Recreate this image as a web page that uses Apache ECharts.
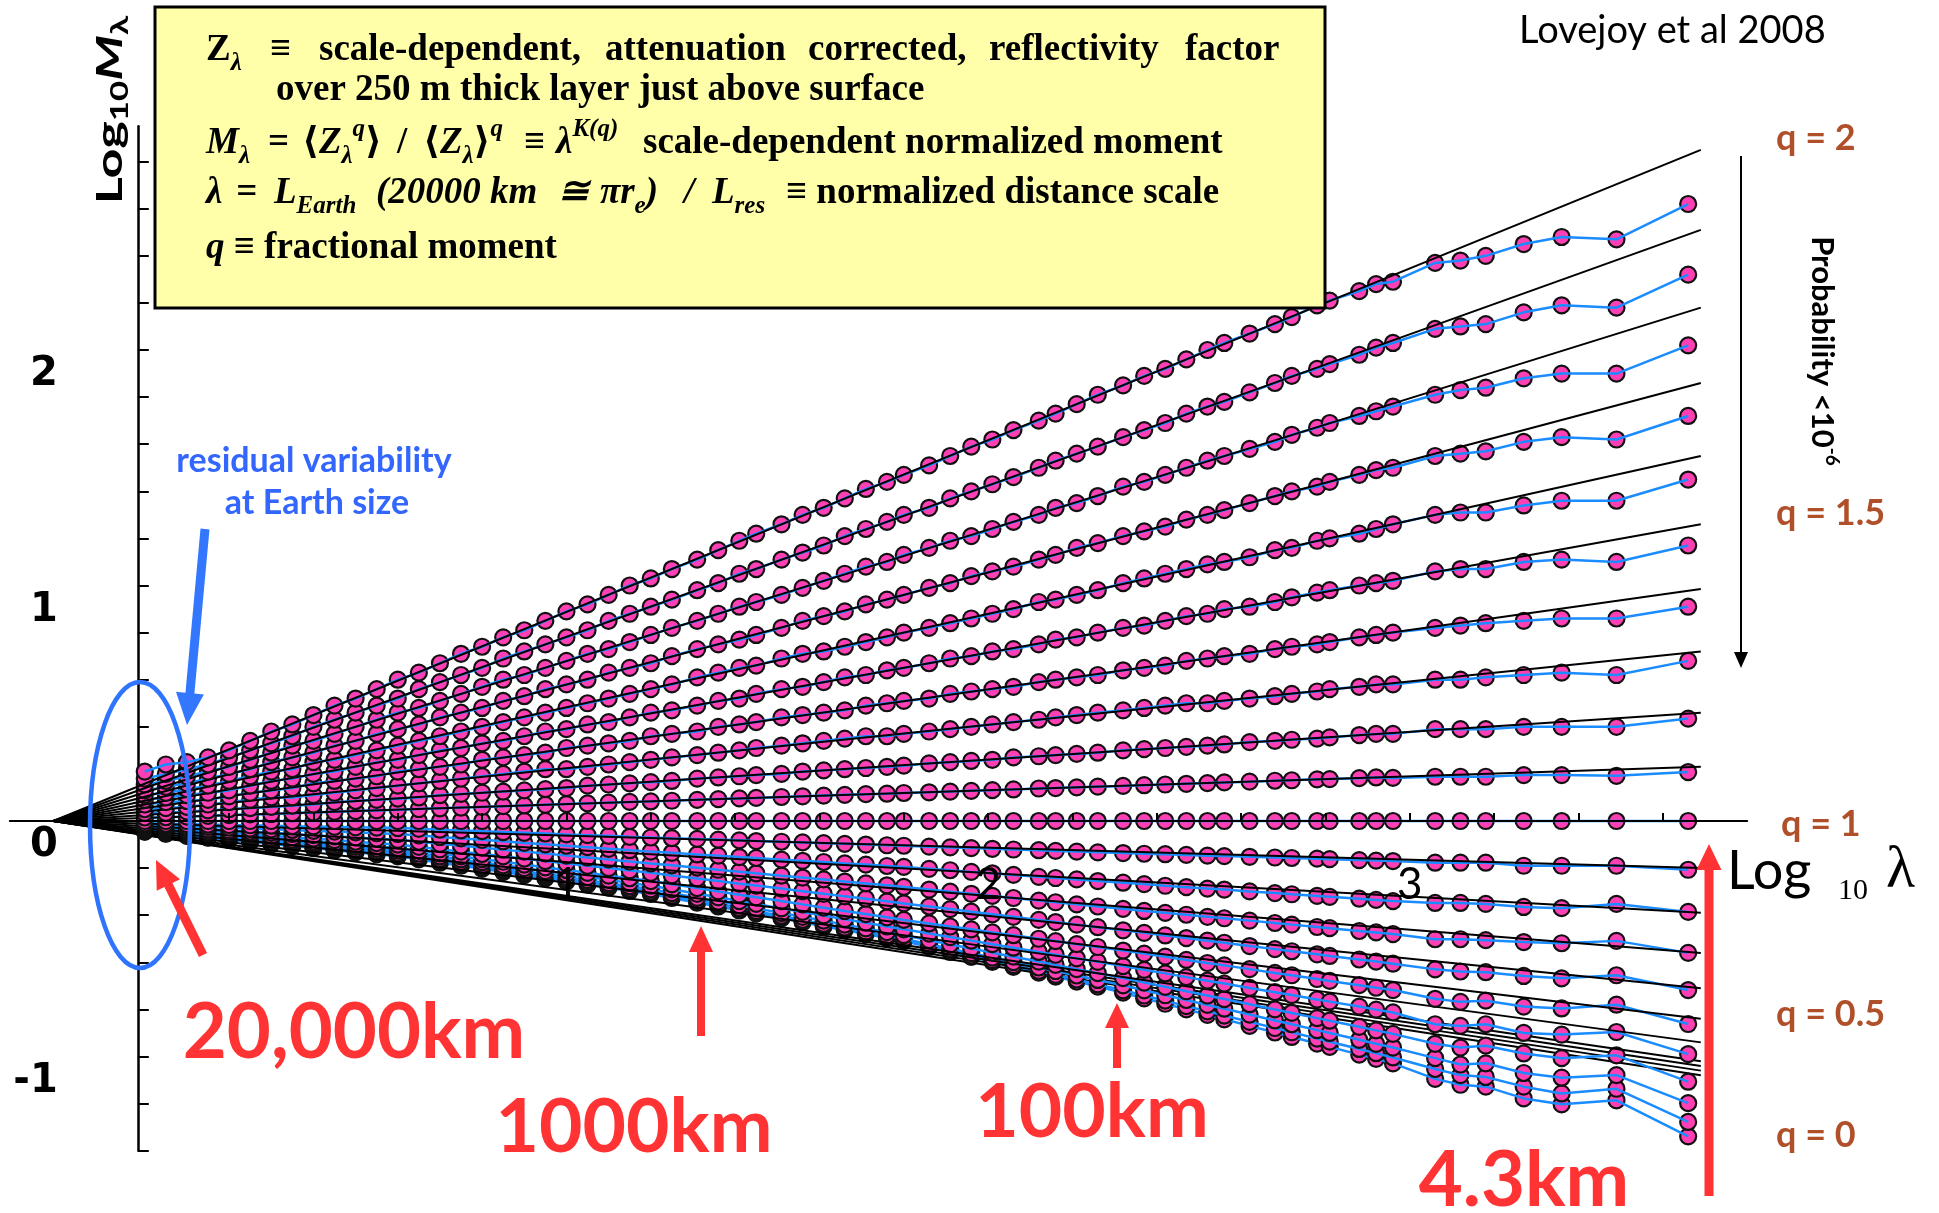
<!DOCTYPE html>
<html>
<head>
<meta charset="utf-8">
<title>Normalized moments - Lovejoy et al 2008</title>
<script src="https://cdn.jsdelivr.net/npm/echarts@6.0.0/dist/echarts.min.js"></script>
<style>
html, body { margin: 0; padding: 0; background: #fff; }
#chart { width: 1939px; height: 1213px; }
</style>
</head>
<body>
<div id="chart"></div>
<script>
// log10 lambda, lambda = 20000 km / resolution
const logLambda = [
  0, .05, .1, .15, .2, .25, .3, .35, .4, .45,
  .5, .55, .6, .65, .7, .75, .8, .85, .9, .95,
  1, 1.05, 1.1, 1.15, 1.2, 1.25, 1.31, 1.36, 1.41, 1.45,
  1.51, 1.56, 1.61, 1.66, 1.71, 1.76, 1.8, 1.86, 1.91, 1.96,
  2.01, 2.06, 2.12, 2.16, 2.21, 2.26, 2.32, 2.37, 2.42, 2.47,
  2.52, 2.56, 2.62, 2.68, 2.72, 2.78, 2.81, 2.88, 2.92, 2.96,
  3.06, 3.12, 3.18, 3.27, 3.36, 3.49, 3.66
]

// log10 M_lambda, one array per moment q
const q20 = [.21, .24, .25, .27, .30, .34, .38, .41, .45, .49, .52, .56, .60, .63, .67, .71, .74, .78, .81, .85, .89, .92, .96, 1.00, 1.03, 1.07, 1.11, 1.15, 1.19, 1.22, 1.26, 1.30, 1.33, 1.37, 1.41, 1.44, 1.47, 1.51, 1.55, 1.59, 1.62, 1.66, 1.70, 1.73, 1.77, 1.81, 1.85, 1.89, 1.92, 1.96, 2.00, 2.03, 2.07, 2.11, 2.14, 2.19, 2.21, 2.25, 2.28, 2.29, 2.37, 2.38, 2.40, 2.45, 2.48, 2.47, 2.62]
const q19 = [.18, .20, .22, .24, .27, .30, .33, .36, .40, .43, .46, .49, .52, .56, .59, .62, .65, .69, .72, .75, .78, .81, .85, .88, .91, .94, .98, 1.01, 1.05, 1.07, 1.11, 1.14, 1.17, 1.21, 1.24, 1.27, 1.30, 1.33, 1.37, 1.40, 1.43, 1.46, 1.50, 1.53, 1.56, 1.59, 1.63, 1.66, 1.69, 1.73, 1.76, 1.78, 1.82, 1.86, 1.89, 1.92, 1.94, 1.98, 2.01, 2.03, 2.09, 2.10, 2.11, 2.16, 2.19, 2.18, 2.32]
const q18 = [.155, .17, .19, .21, .23, .26, .29, .32, .34, .37, .40, .43, .46, .48, .51, .54, .57, .60, .62, .65, .68, .71, .73, .76, .79, .82, .85, .88, .91, .93, .96, .99, 1.02, 1.05, 1.08, 1.10, 1.13, 1.16, 1.19, 1.21, 1.24, 1.27, 1.30, 1.33, 1.35, 1.38, 1.42, 1.44, 1.47, 1.50, 1.53, 1.55, 1.58, 1.61, 1.64, 1.67, 1.69, 1.72, 1.74, 1.76, 1.81, 1.83, 1.84, 1.88, 1.90, 1.90, 2.02]
const q17 = [.13, .145, .16, .18, .20, .22, .25, .27, .29, .32, .34, .37, .39, .41, .44, .46, .48, .51, .53, .56, .58, .60, .63, .65, .67, .70, .73, .75, .77, .79, .82, .85, .87, .89, .92, .94, .96, .99, 1.01, 1.04, 1.06, 1.08, 1.11, 1.13, 1.16, 1.18, 1.21, 1.23, 1.25, 1.28, 1.30, 1.32, 1.35, 1.38, 1.40, 1.42, 1.44, 1.47, 1.49, 1.50, 1.55, 1.56, 1.57, 1.61, 1.63, 1.62, 1.72]
const q16 = [.11, .12, .135, .15, .17, .19, .21, .22, .25, .26, .28, .30, .32, .34, .36, .38, .40, .42, .44, .46, .48, .50, .52, .54, .56, .58, .61, .63, .65, .66, .69, .71, .72, .74, .76, .78, .80, .82, .84, .86, .88, .90, .93, .94, .96, .98, 1.01, 1.03, 1.05, 1.07, 1.09, 1.10, 1.12, 1.15, 1.16, 1.19, 1.20, 1.22, 1.24, 1.26, 1.30, 1.31, 1.31, 1.34, 1.36, 1.36, 1.45]
const q15 = [.09, .10, .11, .12, .13, .15, .17, .18, .20, .21, .23, .25, .26, .28, .30, .31, .33, .34, .36, .38, .39, .41, .42, .44, .46, .47, .49, .51, .52, .54, .56, .57, .59, .61, .62, .64, .65, .67, .69, .70, .72, .73, .75, .77, .78, .80, .82, .83, .85, .87, .88, .90, .91, .93, .95, .97, .98, 1.00, 1.01, 1.02, 1.06, 1.07, 1.07, 1.10, 1.11, 1.10, 1.17]
const q14 = [.07, .08, .085, .09, .105, .12, .13, .14, .16, .17, .18, .19, .21, .22, .23, .24, .26, .27, .28, .29, .31, .32, .33, .34, .36, .37, .38, .40, .41, .42, .44, .45, .46, .47, .49, .50, .51, .52, .54, .55, .56, .57, .59, .60, .61, .62, .64, .65, .66, .68, .69, .70, .71, .73, .74, .75, .76, .78, .79, .80, .82, .83, .84, .85, .86, .86, .91]
const q13 = [.05, .055, .06, .07, .08, .09, .10, .10, .11, .12, .13, .14, .15, .16, .17, .18, .19, .20, .21, .22, .22, .23, .24, .25, .26, .27, .28, .29, .30, .31, .32, .33, .34, .35, .36, .36, .37, .38, .39, .40, .41, .42, .43, .44, .45, .46, .47, .48, .49, .50, .50, .51, .52, .53, .54, .55, .56, .57, .58, .58, .60, .60, .61, .62, .63, .62, .68]
const q12 = [.035, .035, .04, .045, .05, .055, .06, .065, .07, .08, .085, .09, .095, .10, .11, .115, .12, .125, .13, .135, .14, .15, .155, .16, .165, .17, .18, .185, .19, .195, .20, .21, .215, .22, .225, .23, .235, .245, .25, .255, .26, .27, .275, .28, .285, .29, .30, .305, .31, .315, .32, .325, .335, .34, .345, .35, .355, .365, .37, .37, .39, .39, .39, .40, .40, .40, .435]
const q11 = [.015, .016, .019, .022, .025, .028, .03, .033, .036, .039, .042, .045, .048, .051, .054, .057, .06, .063, .066, .069, .072, .075, .078, .081, .083, .086, .09, .093, .096, .098, .102, .105, .108, .111, .114, .116, .119, .122, .125, .128, .131, .134, .138, .14, .143, .146, .149, .152, .155, .158, .161, .164, .167, .171, .173, .177, .178, .182, .185, .183, .188, .188, .188, .195, .195, .192, .208]
const q10 = [0, 0, 0, 0, 0, 0, 0, 0, 0, 0, 0, 0, 0, 0, 0, 0, 0, 0, 0, 0, 0, 0, 0, 0, 0, 0, 0, 0, 0, 0, 0, 0, 0, 0, 0, 0, 0, 0, 0, 0, 0, 0, 0, 0, 0, 0, 0, 0, 0, 0, 0, 0, 0, 0, 0, 0, 0, 0, 0, 0, 0, 0, 0, 0, 0, 0, 0]
const q09 = [-.01, -.012, -.013, -.015, -.017, -.018, -.02, -.022, -.023, -.025, -.027, -.028, -.03, -.033, -.037, -.04, -.043, -.047, -.05, -.053, -.057, -.06, -.063, -.067, -.07, -.073, -.076, -.079, -.082, -.085, -.088, -.091, -.094, -.097, -.1, -.103, -.105, -.109, -.112, -.115, -.118, -.121, -.124, -.127, -.13, -.133, -.136, -.139, -.141, -.144, -.147, -.149, -.152, -.155, -.157, -.16, -.162, -.166, -.168, -.17, -.177, -.177, -.177, -.19, -.19, -.19, -.207]
const q08 = [-.015, -.018, -.022, -.025, -.028, -.032, -.035, -.038, -.042, -.045, -.048, -.052, -.055, -.061, -.068, -.074, -.08, -.086, -.093, -.099, -.105, -.111, -.118, -.124, -.13, -.135, -.142, -.147, -.153, -.157, -.164, -.169, -.174, -.18, -.185, -.191, -.195, -.203, -.209, -.216, -.222, -.229, -.237, -.242, -.248, -.255, -.262, -.268, -.275, -.281, -.287, -.291, -.299, -.306, -.311, -.318, -.322, -.33, -.335, -.34, -.348, -.348, -.352, -.365, -.37, -.352, -.386]
const q07 = [-.02, -.025, -.03, -.035, -.04, -.045, -.05, -.055, -.06, -.065, -.07, -.075, -.08, -.088, -.097, -.105, -.113, -.122, -.13, -.138, -.147, -.155, -.163, -.172, -.18, -.188, -.198, -.207, -.215, -.222, -.232, -.24, -.248, -.257, -.265, -.273, -.28, -.291, -.3, -.309, -.318, -.327, -.338, -.345, -.354, -.363, -.373, -.382, -.39, -.398, -.407, -.413, -.423, -.433, -.44, -.45, -.455, -.467, -.473, -.48, -.502, -.502, -.506, -.514, -.519, -.509, -.56]
const q06 = [-.025, -.031, -.038, -.044, -.05, -.056, -.063, -.069, -.075, -.081, -.088, -.094, -.1, -.11, -.12, -.13, -.14, -.15, -.16, -.17, -.18, -.19, -.2, -.21, -.22, -.231, -.244, -.255, -.266, -.274, -.287, -.298, -.309, -.32, -.33, -.341, -.35, -.363, -.374, -.385, -.396, -.407, -.42, -.429, -.44, -.451, -.464, -.475, -.486, -.497, -.508, -.517, -.531, -.544, -.553, -.566, -.573, -.588, -.597, -.606, -.63, -.639, -.642, -.658, -.668, -.655, -.718]
const q05 = [-.03, -.037, -.044, -.051, -.058, -.065, -.073, -.08, -.087, -.094, -.101, -.108, -.115, -.127, -.138, -.15, -.162, -.173, -.185, -.197, -.208, -.22, -.232, -.243, -.255, -.269, -.285, -.299, -.313, -.324, -.34, -.354, -.368, -.382, -.395, -.409, -.42, -.435, -.448, -.46, -.473, -.485, -.5, -.51, -.523, -.535, -.55, -.563, -.576, -.59, -.603, -.613, -.629, -.645, -.655, -.671, -.679, -.697, -.708, -.718, -.755, -.768, -.763, -.788, -.796, -.78, -.862]
const q04 = [-.035, -.043, -.05, -.058, -.065, -.073, -.08, -.088, -.095, -.103, -.11, -.118, -.125, -.138, -.15, -.163, -.175, -.188, -.2, -.213, -.225, -.238, -.25, -.263, -.275, -.29, -.309, -.324, -.34, -.352, -.371, -.386, -.401, -.417, -.432, -.448, -.46, -.478, -.493, -.508, -.523, -.538, -.556, -.568, -.583, -.598, -.616, -.632, -.647, -.663, -.678, -.69, -.709, -.727, -.739, -.758, -.767, -.788, -.801, -.813, -.863, -.87, -.863, -.9, -.907, -.896, -.99]
const q03 = [-.04, -.048, -.056, -.064, -.072, -.08, -.088, -.095, -.103, -.111, -.119, -.127, -.135, -.148, -.161, -.174, -.187, -.2, -.213, -.225, -.238, -.251, -.264, -.277, -.29, -.306, -.326, -.342, -.358, -.371, -.391, -.407, -.423, -.44, -.456, -.472, -.485, -.506, -.524, -.541, -.559, -.576, -.597, -.611, -.629, -.646, -.667, -.686, -.704, -.723, -.741, -.756, -.778, -.8, -.815, -.837, -.848, -.874, -.889, -.904, -.946, -.962, -.954, -.987, -1.007, -.995, -1.107]
const q02 = [-.04, -.048, -.057, -.065, -.073, -.082, -.09, -.098, -.107, -.115, -.123, -.132, -.14, -.153, -.167, -.18, -.193, -.207, -.22, -.233, -.247, -.26, -.273, -.287, -.3, -.317, -.337, -.353, -.37, -.383, -.403, -.42, -.437, -.453, -.47, -.487, -.5, -.523, -.542, -.561, -.58, -.599, -.622, -.637, -.656, -.675, -.698, -.719, -.74, -.76, -.781, -.797, -.822, -.847, -.863, -.888, -.9, -.929, -.946, -.962, -1.007, -1.034, -1.029, -1.07, -1.09, -1.079, -1.198]
const q01 = [-.045, -.053, -.062, -.07, -.078, -.087, -.095, -.103, -.112, -.12, -.128, -.137, -.145, -.158, -.172, -.185, -.198, -.212, -.225, -.238, -.252, -.265, -.278, -.292, -.305, -.322, -.342, -.358, -.375, -.388, -.408, -.425, -.442, -.458, -.475, -.492, -.505, -.53, -.55, -.571, -.591, -.612, -.636, -.653, -.673, -.694, -.719, -.741, -.763, -.786, -.808, -.826, -.853, -.879, -.897, -.924, -.937, -.968, -.986, -1.004, -1.053, -1.079, -1.087, -1.128, -1.157, -1.137, -1.278]
const q00 = [-.045, -.054, -.063, -.071, -.08, -.089, -.098, -.106, -.115, -.124, -.133, -.141, -.15, -.163, -.177, -.19, -.203, -.217, -.23, -.243, -.257, -.27, -.283, -.297, -.31, -.327, -.347, -.363, -.38, -.393, -.413, -.43, -.447, -.463, -.48, -.497, -.51, -.535, -.556, -.577, -.598, -.619, -.644, -.661, -.682, -.703, -.729, -.753, -.776, -.8, -.823, -.842, -.87, -.898, -.917, -.945, -.959, -.992, -1.01, -1.029, -1.095, -1.12, -1.128, -1.178, -1.203, -1.186, -1.339]

const qValues = [0, 0.1, 0.2, 0.3, 0.4, 0.5, 0.6, 0.7, 0.8, 0.9, 1, 1.1, 1.2, 1.3, 1.4, 1.5, 1.6, 1.7, 1.8, 1.9, 2]
const moments = [q00, q01, q02, q03, q04, q05, q06, q07, q08, q09, q10, q11, q12, q13, q14, q15, q16, q17, q18, q19, q20]

// theoretical lines, all from the effective outer scale to the right edge
const fitStartX = -0.217
const fitEndX = 3.69
const fitEnd = [-1.08, -1.06, -1.04, -1.02, -.94, -.84, -.71, -.56, -.39, -.2, 0, .23, .46, .72, .985, 1.26, 1.55, 1.86, 2.18, 2.51, 2.85]

const xTicks = [0.2, 0.4, 0.6, 0.8, 1, 1.2, 1.4, 1.6, 1.8, 2, 2.2, 2.4, 2.6, 2.8, 3, 3.2, 3.4, 3.6]
const xLabels = [1, 2, 3]
const yTicks = [-1.4, -1.2, -1, -0.8, -0.6, -0.4, -0.2, 0, 0.2, 0.4, 0.6, 0.8, 1, 1.2, 1.4, 1.6, 1.8, 2, 2.2, 2.4, 2.6, 2.8]
const yLabels = [-1, 0, 1, 2]

const SANS = 'Lato, "Open Sans", sans-serif'
const SERIF = '"Liberation Serif", "DejaVu Serif", serif'
const pink = '#ff40b4'
const blue = '#1a8cff'
const red = '#ff3333'
const brown = '#b0502a'

const series = []
moments.forEach((vals, i) => {
  const pts = logLambda.map((x, k) => [x, vals[k]])
  series.push({
    type: 'scatter',
    name: 'q = ' + qValues[i],
    data: pts,
    symbol: 'circle',
    symbolSize: 16,
    itemStyle: { color: pink, borderColor: '#111', borderWidth: 2.2, opacity: 1 },
    z: 2 + i * 3,
    silent: true
  })
  series.push({
    type: 'line',
    data: pts,
    symbol: 'none',
    lineStyle: { color: blue, width: 2.5 },
    z: 3 + i * 3,
    silent: true
  })
  series.push({
    type: 'line',
    data: [[fitStartX, 0], [fitEndX, fitEnd[i]]],
    symbol: 'none',
    lineStyle: { color: '#000', width: 2 },
    z: 4 + i * 3,
    silent: true
  })
})

// arrow polygon from tail to tip
function arrow (x1, y1, x2, y2, w, hw, hl, color) {
  const len = Math.hypot(x2 - x1, y2 - y1)
  const ux = (x2 - x1) / len
  const uy = (y2 - y1) / len
  const px = -uy
  const py = ux
  const bx = x2 - ux * hl
  const by = y2 - uy * hl
  return {
    type: 'polygon',
    z: 120,
    silent: true,
    shape: {
      points: [
        [x1 + px * w / 2, y1 + py * w / 2],
        [bx + px * w / 2, by + py * w / 2],
        [bx + px * hw / 2, by + py * hw / 2],
        [x2, y2],
        [bx - px * hw / 2, by - py * hw / 2],
        [bx - px * w / 2, by - py * w / 2],
        [x1 - px * w / 2, y1 - py * w / 2]
      ]
    },
    style: { fill: color }
  }
}

const boxRich = {
  n: { fontFamily: SERIF, fontWeight: 'bold', fontSize: 37, lineHeight: 52, color: '#000' },
  bi: { fontFamily: SERIF, fontWeight: 'bold', fontStyle: 'italic', fontSize: 37, lineHeight: 52, color: '#000' },
  s: { fontFamily: SERIF, fontWeight: 'bold', fontStyle: 'italic', fontSize: 25, verticalAlign: 'bottom', color: '#000' },
  p: { fontFamily: SERIF, fontWeight: 'bold', fontStyle: 'italic', fontSize: 25, verticalAlign: 'top', color: '#000' }
}

function boxText (x, y, text) {
  return {
    type: 'text', x, y, z: 110, silent: true,
    style: { text, rich: boxRich, align: 'left', verticalAlign: 'middle' }
  }
}

function plainText (x, y, text, font, color, align) {
  return {
    type: 'text', x, y, z: 110, silent: true,
    style: { text, font, fill: color, align: align || 'left', verticalAlign: 'middle' }
  }
}

const graphics = [
  // legend box
  {
    type: 'rect', z: 100, silent: true,
    shape: { x: 155, y: 7, width: 1170, height: 301 },
    style: { fill: '#ffffaa', stroke: '#000', lineWidth: 3 }
  },
  boxText(206, 50, '{n|Z}{s|λ}'),
  boxText(270, 50, '{n|≡}'),
  boxText(319, 50, '{n|scale-dependent,}'),
  boxText(605, 50, '{n|attenuation}'),
  boxText(808, 50, '{n|corrected,}'),
  boxText(989, 50, '{n|reflectivity}'),
  boxText(1185, 50, '{n|factor}'),
  boxText(276, 90, '{n|over 250 m thick layer just above surface}'),
  boxText(206, 143, '{bi|M}{s|λ}'),
  boxText(268, 143, '{n|=}'),
  boxText(302, 143, '{n|⟨}{bi|Z}{s|λ}{p|q}{n|⟩}'),
  boxText(397, 143, '{n|/}'),
  boxText(423, 143, '{n|⟨}{bi|Z}{s|λ}{n|⟩}{p|q}'),
  boxText(524, 143, '{n|≡}'),
  boxText(556, 143, '{bi|λ}{p|K(q)}'),
  boxText(643, 143, '{n|scale-dependent normalized moment}'),
  boxText(206, 193, '{bi|λ}'),
  boxText(236, 193, '{bi|=}'),
  boxText(274, 193, '{bi|L}{s|Earth}'),
  boxText(376, 193, '{bi|(20000 km}'),
  boxText(558, 193, '{bi|≅}'),
  boxText(600, 193, '{bi|πr}{s|e}{bi|)}'),
  boxText(684, 193, '{bi|/}'),
  boxText(712, 193, '{bi|L}{s|res}'),
  boxText(786, 193, '{n|≡ normalized distance scale}'),
  boxText(206, 248, '{bi|q}{n| ≡ fractional moment}'),

  plainText(1519, 31, 'Lovejoy et al 2008', '38px ' + SANS, '#000'),

  // moment labels
  plainText(1776, 138, 'q = 2', 'bold 36px ' + SANS, brown),
  plainText(1776, 513, 'q = 1.5', 'bold 36px ' + SANS, brown),
  plainText(1781, 824, 'q = 1', 'bold 36px ' + SANS, brown),
  plainText(1776, 1014, 'q = 0.5', 'bold 36px ' + SANS, brown),
  plainText(1776, 1135, 'q = 0', 'bold 36px ' + SANS, brown),

  {
    type: 'text', x: 1822, y: 351, rotation: -Math.PI / 2, z: 110, silent: true,
    style: {
      text: '{a|Probability <10}{b|-6}',
      align: 'center', verticalAlign: 'middle',
      rich: {
        a: { fontFamily: SANS, fontWeight: 'bold', fontSize: 31, lineHeight: 40, color: '#000' },
        b: { fontFamily: SANS, fontWeight: 'bold', fontSize: 19, verticalAlign: 'top', color: '#000' }
      }
    }
  },
  arrow(1741, 156, 1741, 668, 2, 14, 16, '#000'),

  // axis titles
  {
    type: 'text', x: 110, y: 110, rotation: Math.PI / 2, scaleX: 1.45, z: 110, silent: true,
    style: {
      text: '{b|Log}{s|10}{i|M}{s|λ}',
      align: 'center', verticalAlign: 'middle',
      rich: {
        b: { fontFamily: SANS, fontWeight: 'bold', fontSize: 36, lineHeight: 44, color: '#000' },
        i: { fontFamily: SANS, fontWeight: 'bold', fontStyle: 'italic', fontSize: 36, lineHeight: 44, color: '#000' },
        s: { fontFamily: SANS, fontWeight: 'bold', fontSize: 24, verticalAlign: 'bottom', color: '#000' }
      }
    }
  },
  plainText(1727, 872, 'Log', '54px ' + SANS, '#000'),
  plainText(1838, 891, '10', '30px ' + SERIF, '#000'),
  plainText(1886, 871, 'λ', '60px ' + SERIF, '#000'),

  // Earth-size annotation
  {
    type: 'ellipse', z: 115, silent: true,
    shape: { cx: 140, cy: 825, rx: 50, ry: 143 },
    style: { fill: 'none', stroke: '#2f74ff', lineWidth: 4.5 }
  },
  plainText(314, 461, 'residual variability', 'bold 34px ' + SANS, '#3366ff', 'center'),
  plainText(317, 503, 'at Earth size', 'bold 34px ' + SANS, '#3366ff', 'center'),
  arrow(205, 529, 187, 725, 9, 28, 32, '#3377ff'),

  // resolution arrows
  arrow(203, 955, 156, 860, 9, 26, 28, red),
  arrow(701, 1036, 701, 926, 8, 24, 26, red),
  arrow(1117, 1068, 1117, 1003, 8, 24, 25, red),
  arrow(1709, 1196, 1709, 844, 9, 25, 26, red),
  plainText(354, 1033, '20,000km', 'bold 76px ' + SANS, red, 'center'),
  plainText(634, 1128, '1000km', 'bold 75px ' + SANS, red, 'center'),
  plainText(1092, 1113, '100km', 'bold 75px ' + SANS, red, 'center'),
  plainText(1524, 1181, '4.3km', 'bold 76px ' + SANS, red, 'center')
]

const chart = echarts.init(document.getElementById('chart'), null, { renderer: 'canvas' })
chart.setOption({
  animation: false,
  backgroundColor: '#fff',
  grid: { left: 9.8, right: 191.8, top: 126.3, bottom: 62.3, containLabel: false, outerBoundsMode: 'none' },
  xAxis: {
    type: 'value',
    min: -0.32,
    max: 3.8,
    position: 'bottom',
    offset: -329.7,
    z: 90,
    axisLine: { onZero: false, lineStyle: { color: '#000', width: 2 } },
    axisTick: { customValues: xTicks, inside: true, length: 8, lineStyle: { color: '#000', width: 2 } },
    axisLabel: { customValues: xLabels, margin: 42, fontSize: 44, fontFamily: SANS, color: '#000' },
    splitLine: { show: false }
  },
  yAxis: {
    type: 'value',
    min: -1.4,
    max: 2.95,
    position: 'left',
    offset: -128,
    axisLine: { show: true, onZero: false, lineStyle: { color: '#000', width: 2.5 } },
    axisTick: { show: true, customValues: yTicks, inside: true, length: 11, lineStyle: { color: '#000', width: 2 } },
    axisLabel: {
      customValues: yLabels, margin: 80, fontSize: 40, fontWeight: 'bold',
      fontFamily: '"DejaVu Sans", sans-serif', color: '#000', verticalAlign: 'top', padding: [5, 0, 0, 0]
    },
    splitLine: { show: false }
  },
  series,
  graphic: { elements: graphics }
})
</script>
</body>
</html>
